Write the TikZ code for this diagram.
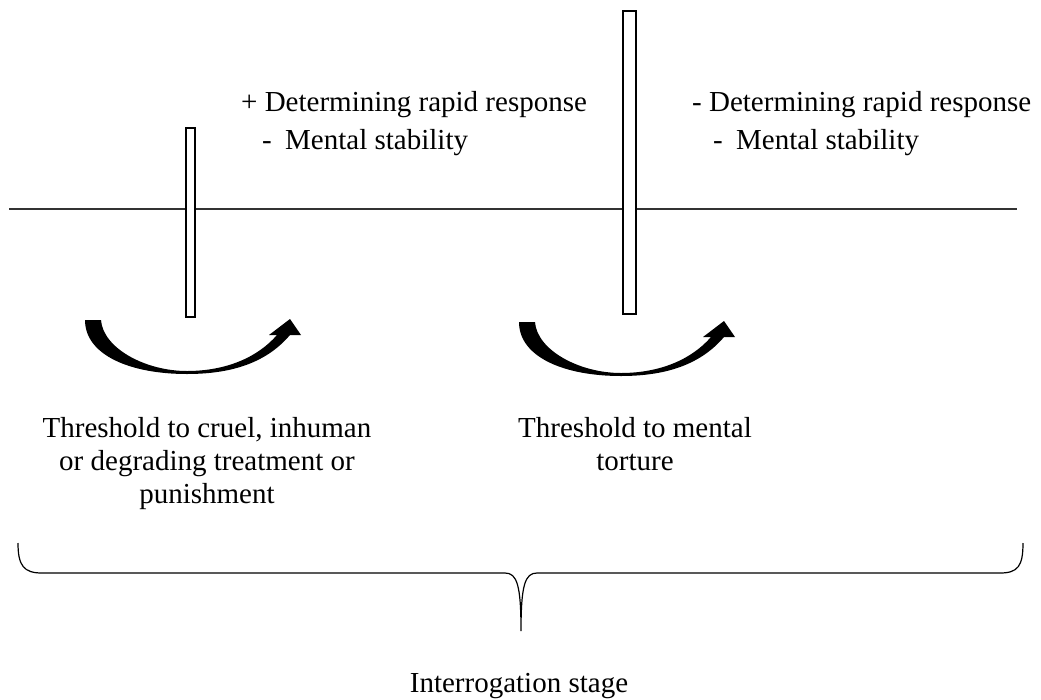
\documentclass[tikz,border=0pt]{standalone}
\usepackage{fontspec}
\setmainfont{Liberation Serif}

\begin{document}
\begin{tikzpicture}[
        x=1pt, y=-1pt,
        txt/.style={anchor=base west, inner sep=0pt, font=\fontsize{29}{33}\selectfont},
        note/.style={anchor=base, inner sep=0pt, align=center, font=\fontsize{29}{33}\selectfont},
        bar/.style={rectangle, draw, line width=2pt, fill=white, inner sep=0pt},
        turn/.style={fill=black}
    ]
        \useasboundingbox (0,0) rectangle (1041,699);
        \coordinate (lineL) at (9,209);
        \coordinate (lineR) at (1017,209);
        \draw[line width=1.2pt, black!80] (lineL) -- (lineR);

        \node[bar, minimum width=9pt, minimum height=189pt] (barA) at (190.5,222.5) {};
        \node[bar, minimum width=13pt, minimum height=303pt] (barB) at (629.5,162.5) {};

        \foreach \ax/\ay in {85/320, 519/322}
            \fill[turn, shift={(\ax,\ay)}] (0,0) -- (16,0) .. controls (18,28) and (60,51) .. (102,51)
                .. controls (140,51) and (172,38) .. (192,15) -- (184,15) -- (205,-1) -- (216,15) -- (205,15)
                .. controls (182,42) and (148,54) .. (102,54) .. controls (45,54) and (0,35) .. (0,0) -- cycle;

        \node[txt] (plusA) at (241,111) {+ Determining rapid response};
        \node[txt] (mentalA) at (262,149) {-\hspace{0.46em}Mental stability};
        \node[txt] (minusB) at (692,111) {- Determining rapid response};
        \node[txt] (mentalB) at (713,149) {-\hspace{0.46em}Mental stability};

        % base anchor sits on the last line
        \node[note] (cruel) at (207,503) {Threshold to cruel, inhuman\\or degrading treatment or\\punishment};
        \node[note] (mental) at (635,470) {Threshold to mental\\torture};

        \draw[line width=1.2pt] (18,543) .. controls (18,566) and (24,573) .. (42,573) -- (505,573)
            .. controls (517,573) and (521,585) .. (521,631) .. controls (521,585) and (525,573) .. (537,573)
            -- (1000,573) .. controls (1018,573) and (1023,566) .. (1023,543);
        \node[note] (stage) at (519,692) {Interrogation stage};
\end{tikzpicture}
\end{document}
